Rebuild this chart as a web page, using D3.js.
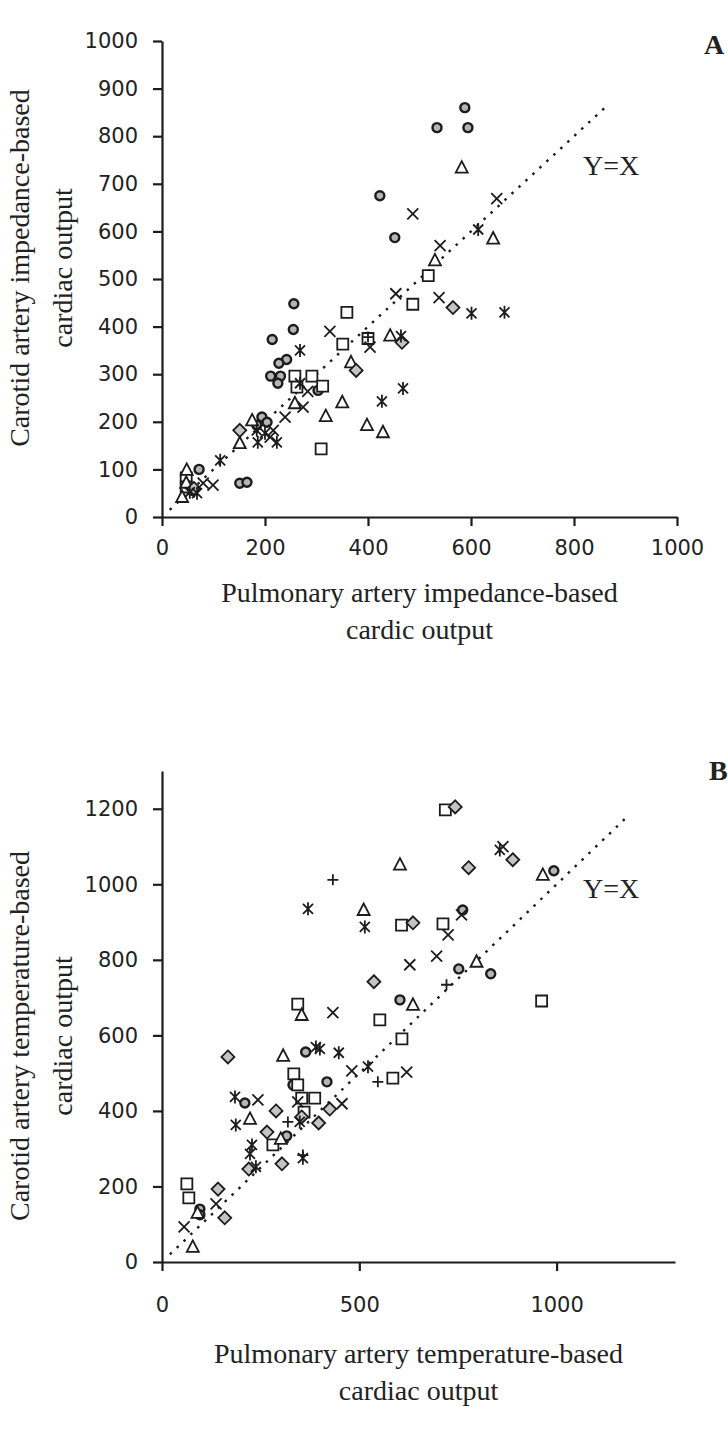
<!DOCTYPE html>
<html>
<head>
<meta charset="utf-8">
<script src="https://cdn.jsdelivr.net/npm/d3@7/dist/d3.min.js"></script>
<style>
  body { margin: 0; background: #fff; }
  svg { display: block; }
  .tick text { font-family: "DejaVu Sans", sans-serif; font-size: 21px; fill: #222; }
  .title { font-family: "Liberation Serif", serif; font-size: 28px; fill: #222; }
</style>
</head>
<body>
<div id="chart"></div>
<script>
// Panel A: impedance-based cardiac output (pulmonary x, carotid y)
var aCircle = [[423,675],[452,587],[588,860],[534,818],[594,818],[256,448],[255,394],[214,373],[242,331],[227,323],[211,296],[230,296],[225,281],[303,266],[194,210],[204,199],[184,193],[151,71],[165,73],[72,100],[58,56]];
var aSquare = [[517,507],[487,447],[359,430],[351,363],[400,375],[258,296],[291,296],[262,273],[312,275],[309,143],[47,82],[47,63]];
var aTriangle = [[582,734],[643,585],[530,539],[443,381],[367,325],[258,239],[318,212],[350,241],[398,193],[429,178],[175,203],[151,155],[48,99],[39,42],[47,72]];
var aDiamond = [[565,440],[466,367],[377,308],[151,182],[62,60]];
var aCross = [[487,637],[650,669],[540,570],[538,461],[454,469],[326,390],[404,357],[283,264],[274,231],[239,210],[216,182],[210,168],[99,67],[80,71]];
var aStar = [[614,604],[601,428],[665,430],[464,380],[468,270],[268,350],[268,281],[427,243],[184,182],[200,176],[223,157],[186,157],[113,119],[54,52],[68,50]];
var aPlus = [[400,378]];

// Panel B: temperature-based cardiac output
var bCircle = [[993,1036],[762,932],[752,776],[833,763],[603,694],[364,556],[332,469],[418,477],[210,421],[316,334],[96,140],[96,125]];
var bSquare = [[718,1197],[712,895],[607,892],[344,683],[552,641],[608,591],[962,691],[334,498],[344,469],[585,487],[354,434],[387,434],[360,397],[281,310],[63,207],[68,170]];
var bTriangle = [[603,1052],[511,932],[965,1025],[797,795],[354,654],[636,681],[307,546],[223,379],[301,326],[78,40],[90,130]];
var bDiamond = [[743,1205],[889,1065],[777,1044],[636,898],[537,742],[167,543],[289,400],[425,405],[397,368],[354,384],[266,344],[304,260],[220,246],[142,193],[159,117]];
var bCross = [[864,1100],[759,919],[725,866],[696,810],[628,787],[433,660],[481,506],[620,503],[344,424],[456,419],[243,429],[137,154],[56,93]];
var bStar = [[856,1091],[370,935],[514,887],[390,569],[400,564],[448,554],[522,517],[185,437],[187,363],[349,371],[228,310],[223,286],[238,252],[357,275]];
var bPlus = [[433,1012],[547,477],[721,734],[319,371],[357,283]];

var aTicksX = [0,200,400,600,800,1000];
var aTicksY = [0,100,200,300,400,500,600,700,800,900,1000];
var bTicksX = [0,500,1000];
var bTicksY = [0,200,400,600,800,1000,1200];
var aLine = [15,865];
var bLine = [20,1180];

var ink = "#1c1c1c";

var svg = d3.select("#chart").append("svg")
    .attr("width", 728)
    .attr("height", 1431);

// marker paths, drawn around 0,0
function markerPath(shape) {
    var p = d3.path();
    if (shape === "square") {
        p.rect(-5.5, -5.5, 11, 11);
    } else if (shape === "triangle") {
        p.moveTo(0, -6.5); p.lineTo(6, 5); p.lineTo(-6, 5); p.closePath();
    } else if (shape === "diamond") {
        p.moveTo(0, -6.5); p.lineTo(6.5, 0); p.lineTo(0, 6.5); p.lineTo(-6.5, 0); p.closePath();
    } else if (shape === "cross") {
        p.moveTo(-5.5, -5.5); p.lineTo(5.5, 5.5); p.moveTo(5.5, -5.5); p.lineTo(-5.5, 5.5);
    } else if (shape === "star") {
        p.moveTo(-5, -5); p.lineTo(5, 5); p.moveTo(5, -5); p.lineTo(-5, 5);
        p.moveTo(0, -6.5); p.lineTo(0, 6.5);
    } else if (shape === "plus") {
        p.moveTo(-5.5, 0); p.lineTo(5.5, 0); p.moveTo(0, -5.5); p.lineTo(0, 5.5);
    } else {
        p.arc(0, 0, 4.5, 0, 2 * Math.PI);
    }
    return p.toString();
}

var fills = { circle: "#b5b5b5", diamond: "#c4c4c4", square: "#fff", triangle: "#fff" };

function drawPanel(cfg) {
    var x = d3.scaleLinear().domain(cfg.xDomain).range(cfg.xRange);
    var y = d3.scaleLinear().domain(cfg.yDomain).range(cfg.yRange);
    var g = svg.append("g");

    var yAxis = g.append("g")
        .attr("transform", "translate(" + cfg.xRange[0] + ",0)")
        .call(d3.axisLeft(y).tickValues(cfg.ticksY).tickFormat(d3.format("d"))
            .tickSize(9).tickSizeOuter(0).tickPadding(15));
    var xAxis = g.append("g")
        .attr("transform", "translate(0," + cfg.yRange[0] + ")")
        .call(d3.axisBottom(x).tickValues(cfg.ticksX).tickFormat(d3.format("d"))
            .tickSize(9).tickSizeOuter(0).tickPadding(cfg.xPad));
    [xAxis, yAxis].forEach(function(a) {
        a.select(".domain").attr("stroke", ink).attr("stroke-width", 2.2);
        a.selectAll(".tick line").attr("stroke", ink).attr("stroke-width", 2.2);
    });

    // Y=X reference line
    g.append("line")
        .attr("x1", x(cfg.line[0])).attr("y1", y(cfg.line[0]))
        .attr("x2", x(cfg.line[1])).attr("y2", y(cfg.line[1]))
        .attr("stroke", ink)
        .attr("stroke-width", 2.4)
        .attr("stroke-dasharray", "2.5,7");

    cfg.series.forEach(function(s) {
        g.selectAll(null)
            .data(s.pts)
            .enter()
            .append("path")
            .attr("d", markerPath(s.shape))
            .attr("transform", function(d) {
                return "translate(" + x(d[0]) + "," + y(d[1]) + ")";
            })
            .attr("fill", fills[s.shape] || "none")
            .attr("stroke", ink)
            .attr("stroke-width", s.shape === "circle" ? 2.4 : 1.8);
    });

    g.append("text")
        .attr("class", "title")
        .attr("x", cfg.yxPos[0]).attr("y", cfg.yxPos[1])
        .attr("font-size", "27px")
        .text("Y=X");

    g.append("text")
        .attr("class", "title")
        .attr("x", cfg.letterPos[0]).attr("y", cfg.letterPos[1])
        .attr("font-weight", "bold")
        .text(cfg.letter);

    var xMid = (cfg.xRange[0] + cfg.xRange[1]) / 2;
    cfg.xTitle.forEach(function(t, i) {
        g.append("text")
            .attr("class", "title")
            .attr("text-anchor", "middle")
            .attr("x", xMid)
            .attr("y", cfg.xTitleY + i * 37)
            .text(t);
    });
    cfg.yTitle.forEach(function(t, i) {
        g.append("text")
            .attr("class", "title")
            .attr("text-anchor", "middle")
            .attr("transform", "translate(" + (29 + i * 43) + "," + cfg.yTitleMid + ") rotate(-90)")
            .text(t);
    });
}

drawPanel({
    xDomain: [0, 1000], xRange: [162, 677],
    yDomain: [0, 1000], yRange: [517, 41],
    ticksX: aTicksX, ticksY: aTicksY, xPad: 14,
    line: aLine,
    series: [
        { shape: "circle", pts: aCircle },
        { shape: "square", pts: aSquare },
        { shape: "triangle", pts: aTriangle },
        { shape: "diamond", pts: aDiamond },
        { shape: "cross", pts: aCross },
        { shape: "star", pts: aStar },
        { shape: "plus", pts: aPlus }
    ],
    yxPos: [583, 175],
    letter: "A", letterPos: [704, 54],
    xTitle: ["Pulmonary artery impedance-based", "cardic output"],
    xTitleY: 602,
    yTitle: ["Carotid artery impedance-based", "cardiac output"],
    yTitleMid: 268
});

drawPanel({
    xDomain: [0, 1300], xRange: [162, 675],
    yDomain: [0, 1300], yRange: [1262, 771],
    ticksX: bTicksX, ticksY: bTicksY, xPad: 26,
    line: bLine,
    series: [
        { shape: "circle", pts: bCircle },
        { shape: "square", pts: bSquare },
        { shape: "triangle", pts: bTriangle },
        { shape: "diamond", pts: bDiamond },
        { shape: "cross", pts: bCross },
        { shape: "star", pts: bStar },
        { shape: "plus", pts: bPlus }
    ],
    yxPos: [583, 898],
    letter: "B", letterPos: [709, 780],
    xTitle: ["Pulmonary artery temperature-based", "cardiac output"],
    xTitleY: 1363,
    yTitle: ["Carotid artery temperature-based", "cardiac output"],
    yTitleMid: 1036
});
</script>
</body>
</html>
